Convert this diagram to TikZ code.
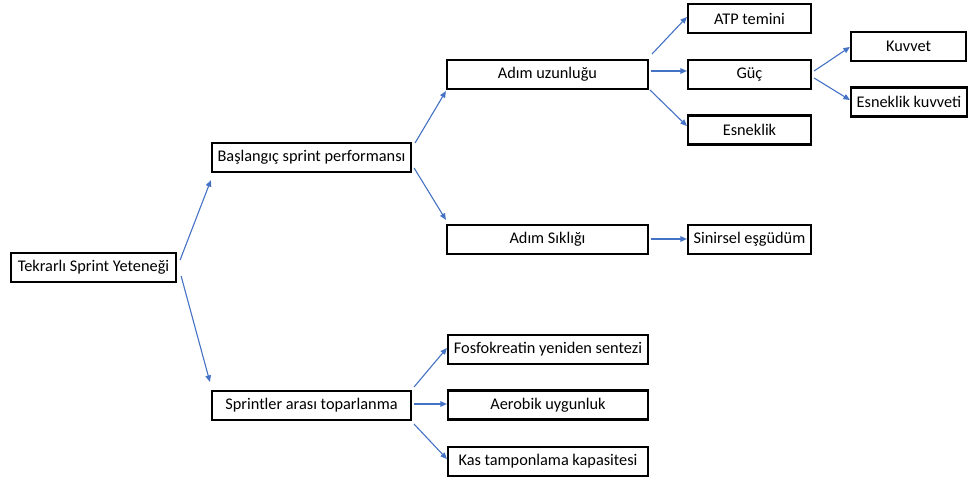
\documentclass[tikz,border=0pt]{standalone}
\usepackage{fontspec}
\setmainfont{Carlito}
\usetikzlibrary{arrows.meta}
\definecolor{linkblue}{RGB}{68,114,196}
\begin{document}
\begin{tikzpicture}[x=1pt,y=-1pt,
  box/.style={draw=black,line width=2.2pt,inner sep=0pt,minimum height=29pt,
    font=\fontsize{16.3}{19}\selectfont},
  link/.style={draw=linkblue,line width=1.1pt,-{Triangle[length=6.5pt,width=5.5pt]}}]
\useasboundingbox (0,0) rectangle (970,481);

% boxes
\node[box,minimum width=165pt] (tek) at (93.5,267.5) {Tekrarlı Sprint Yeteneği};
\node[box,minimum width=199pt] (bas) at (311.5,157.5) {Başlangıç sprint performansı};
\node[box,minimum width=199pt] (spr) at (311.5,405.5) {Sprintler arası toparlanma};
\node[box,minimum width=201pt] (uzun) at (547.5,74.5) {Adım uzunluğu};
\node[box,minimum width=201pt] (sik) at (547.5,239.5) {Adım Sıklığı};
\node[box,minimum width=123pt] (atp) at (749.5,18.5) {ATP temini};
\node[box,minimum width=123pt] (guc) at (749.5,74.5) {Güç};
\node[box,minimum width=123pt] (esn) at (749.5,130) {Esneklik};
\node[box,minimum width=123pt] (sin) at (749.5,239.5) {Sinirsel eşgüdüm};
\node[box,minimum width=115pt] (kuv) at (908.5,46.5) {Kuvvet};
\node[box,minimum width=116pt] (ek) at (909,102) {Esneklik kuvveti};
\node[box,minimum width=200pt] (fos) at (548,349.5) {Fosfokreatin yeniden sentezi};
\node[box,minimum width=200pt] (aer) at (548,405) {Aerobik uygunluk};
\node[box,minimum width=200pt] (kas) at (548,461.5) {Kas tamponlama kapasitesi};

% connectors
\draw[link] ([shift={(3,-7.5)}]tek.east) -- ([shift={(0,7)}]bas.south west);
\draw[link] ([shift={(4,8.5)}]tek.east) -- ([shift={(-1,-8)}]spr.north west);
\draw[link] ([shift={(3,1)}]bas.north east) -- ([shift={(0,1)}]uzun.south west);
\draw[link] ([shift={(2,10.5)}]bas.east) -- ([shift={(0,-4)}]sik.north west);
\draw[link] ([shift={(3,-5)}]uzun.north east) -- ([shift={(0,-1.5)}]atp.west);
\draw[link] ([shift={(2,-3.5)}]uzun.east) -- ([shift={(0,-3.5)}]guc.west);
\draw[link] ([shift={(1,0)}]uzun.south east) -- ([shift={(0,-4)}]esn.west);
\draw[link] ([shift={(2,-3.5)}]guc.east) -- ([shift={(0,0.5)}]kuv.west);
\draw[link] ([shift={(2,3.5)}]guc.east) -- ([shift={(0,-2)}]ek.west);
\draw[link] ([shift={(2,-0.5)}]sik.east) -- ([shift={(0,-0.5)}]sin.west);
\draw[link] ([shift={(2,-3)}]spr.north east) -- ([shift={(0,-1.5)}]fos.west);
\draw[link] ([shift={(2,-1.5)}]spr.east) -- ([shift={(0,-1)}]aer.west);
\draw[link] ([shift={(2,3)}]spr.south east) -- ([shift={(0,-2.5)}]kas.west);
\end{tikzpicture}
\end{document}
